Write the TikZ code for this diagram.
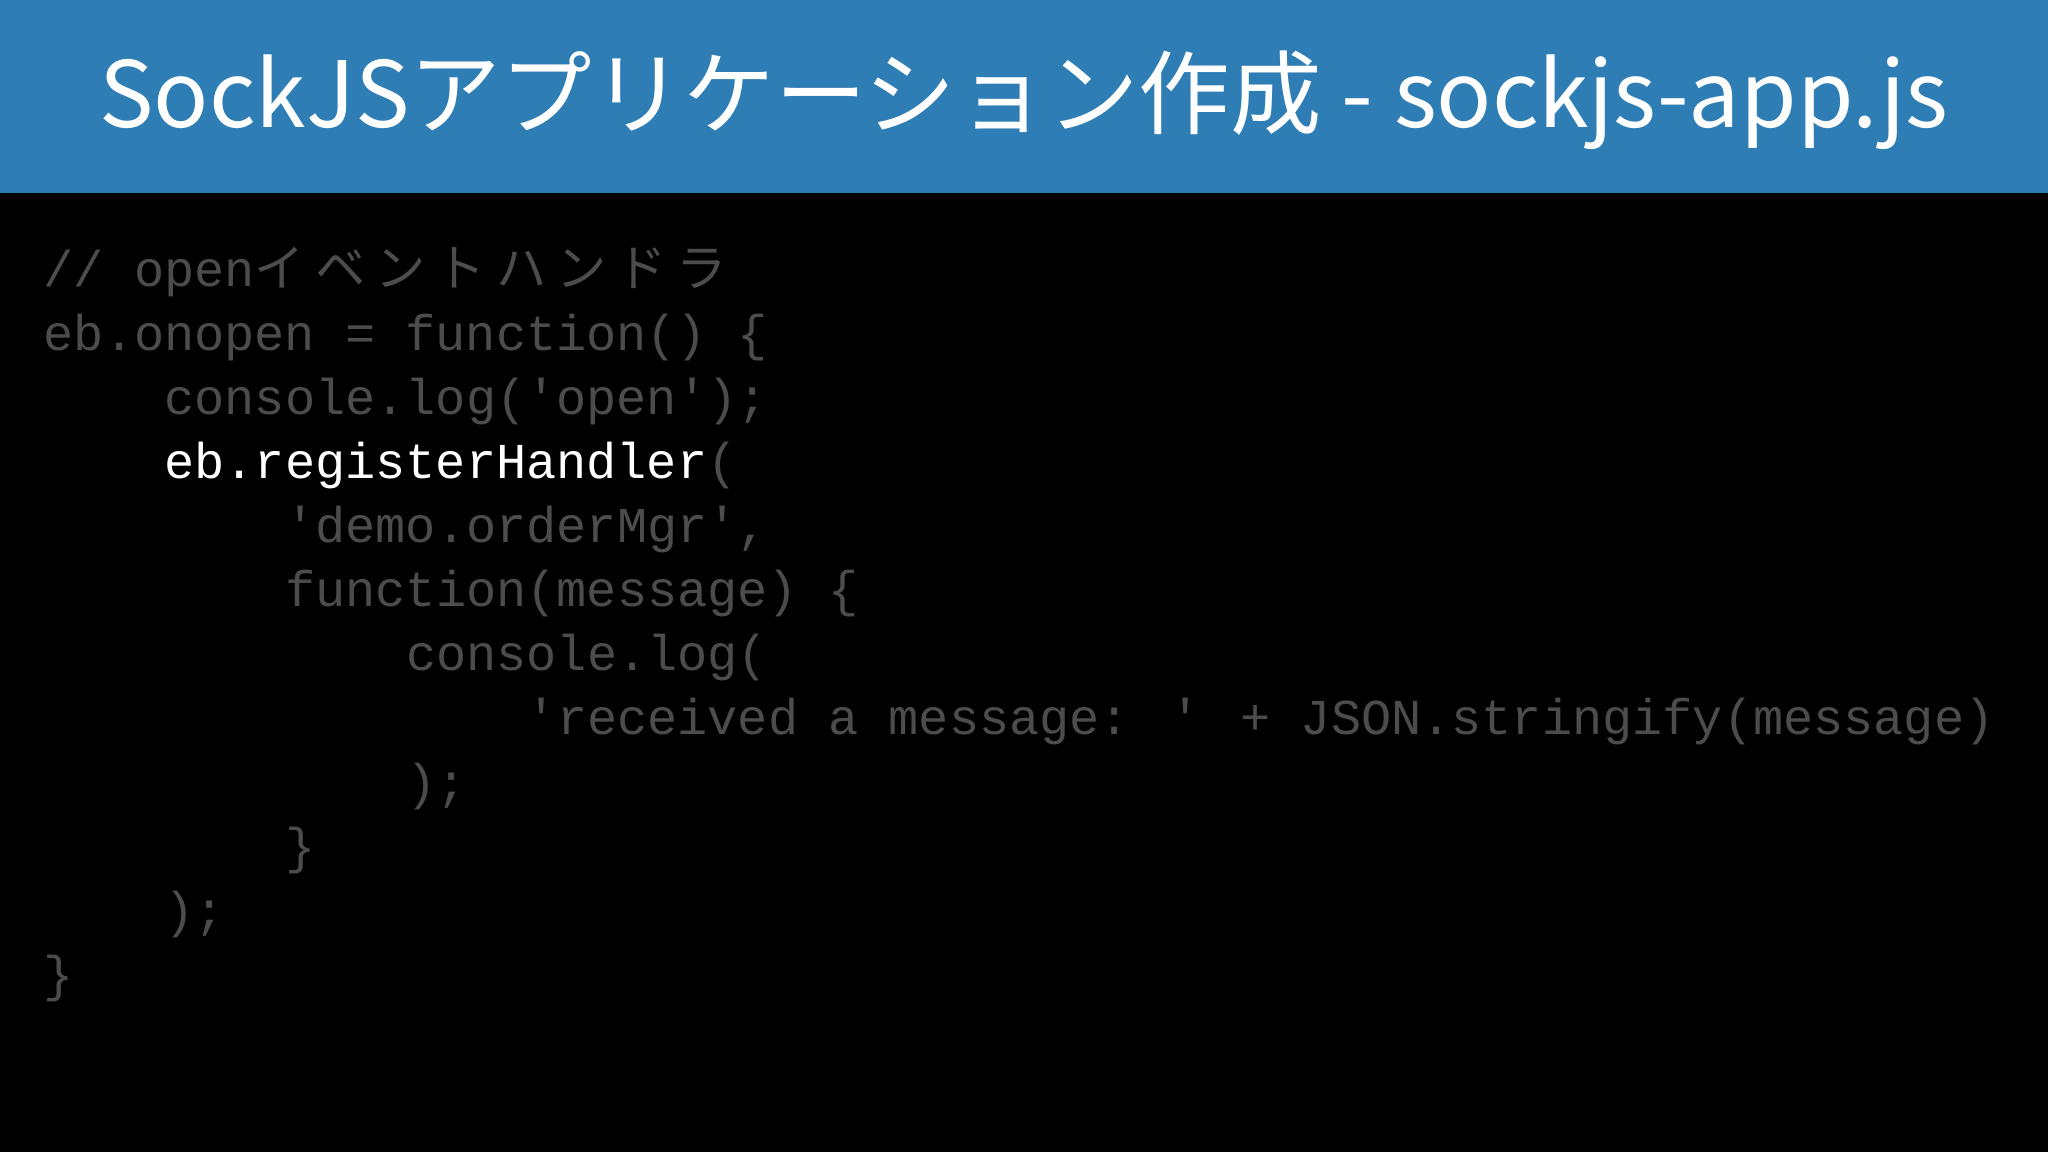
\documentclass[tikz,border=0pt]{standalone}
\usepackage{fontspec}
\newfontfamily\codefont{Liberation Mono}
\newfontfamily\cjk{Noto Sans CJK JP}
\definecolor{hdr}{HTML}{2E7DB5}
\definecolor{codegrey}{HTML}{4C4C4C}
\tikzset{codeline/.style={anchor=base west,inner sep=0pt,text=codegrey,font=\codefont\fontsize{14.3}{16}\selectfont}}
\begin{document}
\begin{tikzpicture}
\useasboundingbox (0,0) rectangle (20.48,-11.52);
\fill[black] (0,0) rectangle (20.48,-11.52);
\fill[hdr] (0,0) rectangle (20.48,-1.93);
\node[text=white,font=\cjk\fontsize{26}{30}\selectfont] (title) at (10.24,-1.0) {SockJSアプリケーション作成 - sockjs-app.js};
\def\cw{0.302}
\node[codeline] (l0) at (0.43,-2.87) {// open{\cjk\addfontfeature{LetterSpace=20}イベントハンドラ}};
\node[codeline] (l1) at (0.43,-3.51) {eb.onopen = function() \string{};
\node[codeline] (l2) at (0.43+4*\cw,-4.15) {console.log('open');};
\node[codeline] (l3) at (0.43+4*\cw,-4.79) {\textcolor{white}{eb.registerHandler}(};
\node[codeline] (l4) at (0.43+8*\cw,-5.43) {'demo.orderMgr',};
\node[codeline] (l5) at (0.43+8*\cw,-6.07) {function(message) \string{};
\node[codeline] (l6) at (0.43+12*\cw,-6.71) {console.log(};
\node[codeline] (l7) at (0.43+16*\cw,-7.35) {'received a message: ' + JSON.stringify(message)};
\node[codeline] (l8) at (0.43+12*\cw,-7.99) {);};
\node[codeline] (l9) at (0.43+8*\cw,-8.63) {\string}};
\node[codeline] (l10) at (0.43+4*\cw,-9.27) {);};
\node[codeline] (l11) at (0.43,-9.91) {\string}};
\end{tikzpicture}
\end{document}
